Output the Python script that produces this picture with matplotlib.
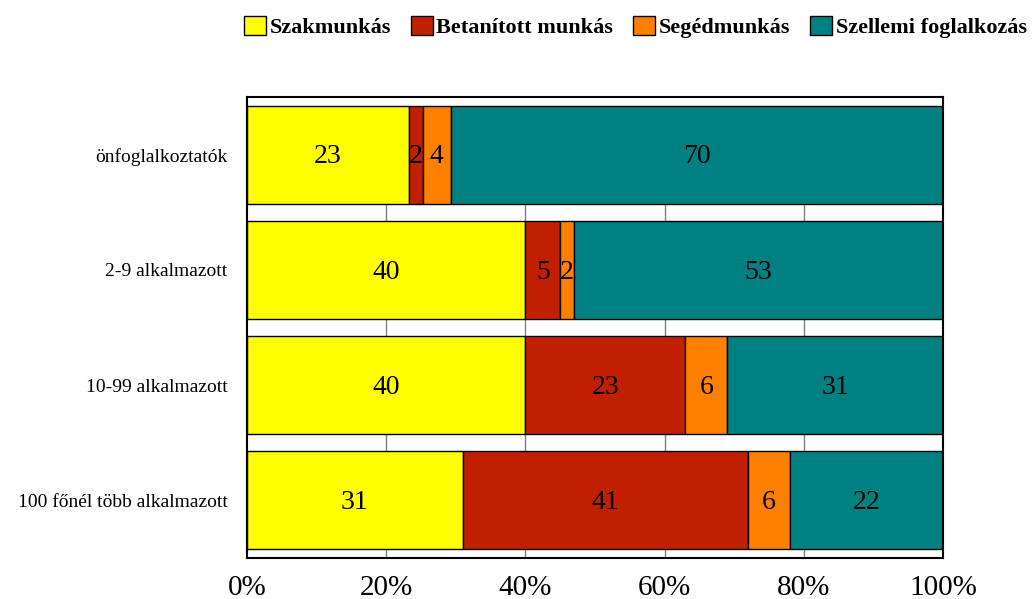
import matplotlib.pyplot as plt
import numpy as np

plt.rcParams['font.family'] = ['Liberation Serif', 'DejaVu Serif']

categories = ['önfoglalkoztatók', '2-9 alkalmazott', '10-99 alkalmazott',
              '100 főnél több alkalmazott']
series = ['Szakmunkás', 'Betanított munkás', 'Segédmunkás', 'Szellemi foglalkozás']
szakmunkas = [23, 40, 40, 31]
betanitott = [2, 5, 23, 41]
segedmunkas = [4, 2, 6, 6]
szellemi = [70, 53, 31, 22]
colors = ['#FFFF00', '#C02000', '#FF8000', '#008080']

data = np.array([szakmunkas, betanitott, segedmunkas, szellemi], dtype=float)
pct = data / data.sum(axis=0) * 100

fig = plt.figure(figsize=(10.34, 5.99), dpi=100)
ax = fig.add_axes([0.2389, 0.0684, 0.9120 - 0.2389, 0.838 - 0.0684])

bar_h = 0.85
y = np.arange(len(categories))
left = np.zeros(len(categories))
for i in range(len(series)):
    ax.barh(y, pct[i], left=left, height=bar_h, color=colors[i],
            edgecolor='black', linewidth=1, label=series[i], zorder=2)
    for j in range(len(categories)):
        ax.text(left[j] + pct[i][j] / 2, y[j] + 0.02, '%d' % data[i][j],
                ha='center', va='center', fontsize=20, zorder=3)
    left += pct[i]

ax.set_xlim(0, 100)
ax.set_ylim(len(categories) - 0.5, -0.5)
ax.set_xticks([0, 20, 40, 60, 80, 100])
ax.set_xticklabels(['0%', '20%', '40%', '60%', '80%', '100%'], fontsize=21)
ax.set_yticks(y)
ax.set_yticklabels(categories, fontsize=14)
ax.tick_params(axis='y', length=0, pad=14)
ax.tick_params(axis='x', length=0, pad=12)
# gridlines only from the first bar's top down
ax.vlines([20, 40, 60, 80], -bar_h / 2, len(categories) - 0.5,
          color='#808080', linewidth=1, zorder=0)
for s in ax.spines.values():
    s.set_linewidth(1.5)

fig.legend(loc='upper right', bbox_to_anchor=(1.008, 1.0), ncol=4, frameon=False,
           prop={'weight': 'bold', 'size': 16}, handlelength=1.0,
           handleheight=1.0, handletextpad=0.15, columnspacing=0.9,
           borderaxespad=0.3)

fig.savefig('out.png', dpi=100)
